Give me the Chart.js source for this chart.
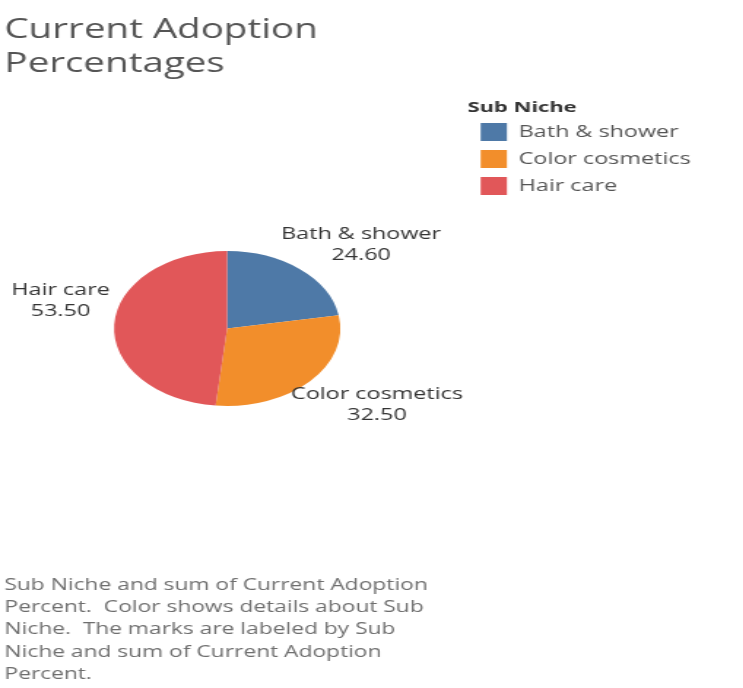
<!DOCTYPE html>
<html>
<head>
<meta charset="utf-8">
<title>Current Adoption Percentages</title>
<script src="https://cdn.jsdelivr.net/npm/chart.js@4.4.1/dist/chart.umd.min.js"></script>
<style>
  html, body { margin: 0; background: #fff; }
  /* the reference is stretched sideways, so the whole chart is too */
  #wrap { width: 509px; height: 688px; transform: scaleX(1.46); transform-origin: 0 0; }
</style>
</head>
<body>
<div id="wrap"><canvas id="myChart" width="509" height="688"></canvas></div>
<script>
var niches = ['Bath & shower', 'Color cosmetics', 'Hair care'];
var adoption = [24.6, 32.5, 53.5];
var colors = ['#4e79a7', '#f28e2b', '#e15759'];
var caption = [
  'Sub Niche and sum of Current Adoption',
  'Percent.  Color shows details about Sub',
  'Niche.  The marks are labeled by Sub',
  'Niche and sum of Current Adoption',
  'Percent.'
];
var font = "'Open Sans', sans-serif";

// move the pie a little left of the space the legend leaves
var pieNudge = {
  id: 'pieNudge',
  afterLayout: function (chart, args, opts) {
    chart.chartArea.left += opts.dx;
    chart.chartArea.right += opts.dx;
  }
};

// Tableau style labels just outside each slice
var sliceLabels = {
  id: 'sliceLabels',
  afterDatasetsDraw: function (chart, args, opts) {
    var ctx = chart.ctx;
    var meta = chart.getDatasetMeta(0);
    ctx.save();
    ctx.font = opts.size + 'px ' + font;
    ctx.fillStyle = opts.color;
    ctx.textAlign = 'center';
    ctx.textBaseline = 'middle';
    meta.data.forEach(function (arc, i) {
      var p = arc.getProps(['x', 'y', 'startAngle', 'endAngle', 'outerRadius'], true);
      var mid = (p.startAngle + p.endAngle) / 2;
      var ax = p.x + Math.cos(mid) * p.outerRadius;
      var ay = p.y + Math.sin(mid) * p.outerRadius;
      var lines = [chart.data.labels[i], chart.data.datasets[0].data[i].toFixed(2)];
      var w = Math.max(ctx.measureText(lines[0]).width, ctx.measureText(lines[1]).width);
      var h = lines.length * opts.lineHeight;
      var cx = Math.cos(mid) >= 0 ? ax + opts.gapRight + w / 2 : ax - opts.gapLeft - w / 2;
      var top = Math.sin(mid) < 0 ? ay - opts.gapY - h : ay + opts.gapY;
      lines.forEach(function (t, k) {
        ctx.fillText(t, cx, top + opts.lineHeight * (k + 0.5));
      });
    });
    ctx.restore();
  }
};

var ctx = document.getElementById('myChart').getContext('2d');
var myChart = new Chart(ctx, {
  type: 'pie',
  data: {
    labels: niches,
    datasets: [{
      label: 'Current Adoption Percent',
      data: adoption,
      backgroundColor: colors,
      borderWidth: 0,
      radius: 77.5
    }]
  },
  options: {
    responsive: false,
    animation: false,
    layout: { padding: { left: 3, right: 26, top: 0, bottom: 0 } },
    plugins: {
      title: {
        display: true,
        text: ['Current Adoption', 'Percentages'],
        align: 'start',
        color: '#555',
        font: { family: font, size: 26.4, weight: 'normal', lineHeight: '34px' },
        padding: { top: 13, bottom: 1.9 }
      },
      subtitle: {
        display: true,
        position: 'bottom',
        text: caption,
        align: 'start',
        color: '#6e6e6e',
        font: { family: font, size: 15.6, weight: 'normal', lineHeight: '22.3px' },
        padding: { top: 0, bottom: 2.4 }
      },
      legend: {
        position: 'right',
        align: 'start',
        fullSize: false,
        title: {
          display: true,
          text: 'Sub Niche',
          position: 'start',
          color: '#333',
          font: { family: font, size: 15, weight: 'bold', lineHeight: '13px' },
          padding: { top: 17.8, bottom: 0.3 }
        },
        labels: {
          boxWidth: 18,
          boxHeight: 18,
          padding: 9,
          color: '#555',
          font: { family: font, size: 16 }
        }
      },
      tooltip: { enabled: false },
      pieNudge: { dx: -6 },
      sliceLabels: { size: 16, color: '#333', lineHeight: 21, gapRight: -13, gapLeft: 3, gapY: 3 }
    }
  },
  plugins: [pieNudge, sliceLabels]
});
</script>
</body>
</html>
